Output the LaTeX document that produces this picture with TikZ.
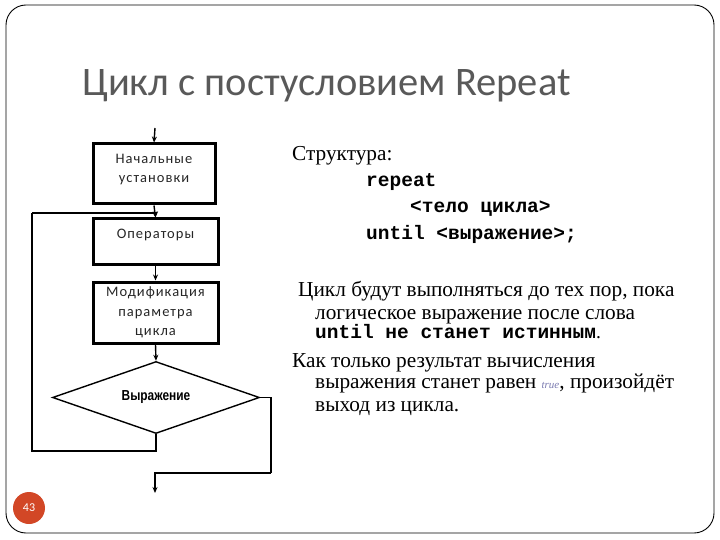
\documentclass[tikz,border=0pt]{standalone}
\usepackage{fontspec}
\setmainfont{Liberation Serif}
\newfontfamily\carl{Carlito}
\newfontfamily\carlsp[LetterSpace=7]{Carlito}
\newfontfamily\narrowb{Liberation Sans}
\newfontfamily\monob{Liberation Mono}
\usetikzlibrary{shapes.geometric,arrows.meta}
\definecolor{titlegray}{HTML}{595959}
\definecolor{pageorange}{HTML}{D24726}
\definecolor{truecol}{HTML}{7A7AB0}
\begin{document}
\begin{tikzpicture}[x=1pt,y=-1pt,
  box/.style={draw=black,line width=3pt,rectangle,inner sep=0pt},
  boxtext/.style={font=\carlsp\fontsize{14.5}{19.5}\selectfont,align=center,text=black!85,inner sep=0pt},
  flow/.style={line width=1.4pt,-{Stealth[length=6pt,width=5pt]}},
  plain/.style={line width=1.4pt},
  rtext/.style={anchor=base west,inner sep=0pt,font=\fontsize{21.3}{25}\selectfont},
  mtext/.style={anchor=base west,inner sep=0pt,font=\monob\bfseries\fontsize{19.5}{23}\selectfont}]
\useasboundingbox (0,0) rectangle (720,540);
\draw[line width=0.9pt,rounded corners=20pt] (6,5) rectangle (714,533);

\node[anchor=base west,inner sep=0pt,text=titlegray,font=\carl\fontsize{40.5}{48}\selectfont] (title) at (82,96) {Цикл с постусловием Repeat};

% flowchart
\coordinate (start) at (155,128);
\node[box,minimum width=122pt,minimum height=60pt] (b1) at (154,174) {};
\node[boxtext,anchor=north] (t1) at ([yshift=-11pt]b1.north) {Начальные\\установки};
\node[box,minimum width=125pt,minimum height=45pt] (b2) at (155.5,241.5) {};
\node[boxtext,anchor=north] (t2) at ([yshift=-11pt]b2.north) {Операторы};
\node[box,minimum width=125pt,minimum height=61pt] (b3) at (155.5,312.5) {};
\node[boxtext,anchor=north] (t3) at ([yshift=-6.5pt]b3.north) {Модификация\\параметра\\цикла};
\node[diamond,draw,line width=1.4pt,minimum width=207pt,minimum height=72pt,inner sep=0pt,aspect=2.87] (d) at (156,397.5) {};
\node[inner sep=0pt,font=\narrowb\bfseries\fontsize{14.5}{16}\selectfont] (dt) at (d.center) {\scalebox{0.82}[1]{Выражение}};

\draw[flow] (start) -- (b1.north);
\draw[flow] (b1.south) -- (b2.north);
\draw[flow] (b2.south) -- (b3.north);
\draw[flow] (b3.south) -- (d.north);

\coordinate (lb) at (32,451);
\coordinate (lt) at (32,213);
\draw[plain] (d.south) |- (lb) -- (lt);
\draw[flow] (lt) -| (b2.north);

\coordinate (r1) at (271,397.5);
\coordinate (r2) at (271,473);
\coordinate (fin) at (155,493);
\draw[plain] (d.east) -- (r1) -- (r2);
\draw[flow] (r2) -| (fin);

% page number
\node[circle,fill=pageorange,minimum size=32pt,inner sep=0pt,text=white,font=\carl\fontsize{12}{14}\selectfont] (pg) at (29,508) {43};

% right text
\node[rtext] (s1) at (292,161) {Структура:};
\node[mtext] (s2) at (366,187) {repeat};
\node[mtext] (s3) at (410,212) {<тело цикла>};
\node[mtext] (s4) at (366,240) {until <выражение>;};

\node[rtext] (p1) at (298,296) {Цикл будут выполняться до тех пор, пока};
\node[rtext] (p2) at (315,319) {логическое выражение после слова};
\node[mtext] (p3) at (315,338) {until не станет истинным\textmd{\rmfamily.}};
\node[rtext] (q1) at (292,367) {Как только результат вычисления};
\node[rtext] (q2) at (315,388) {выражения станет равен {\itshape\fontsize{11}{13}\selectfont\color{truecol}true}, произойдёт};
\node[rtext] (q3) at (315,411) {выход из цикла.};
\end{tikzpicture}
\end{document}
